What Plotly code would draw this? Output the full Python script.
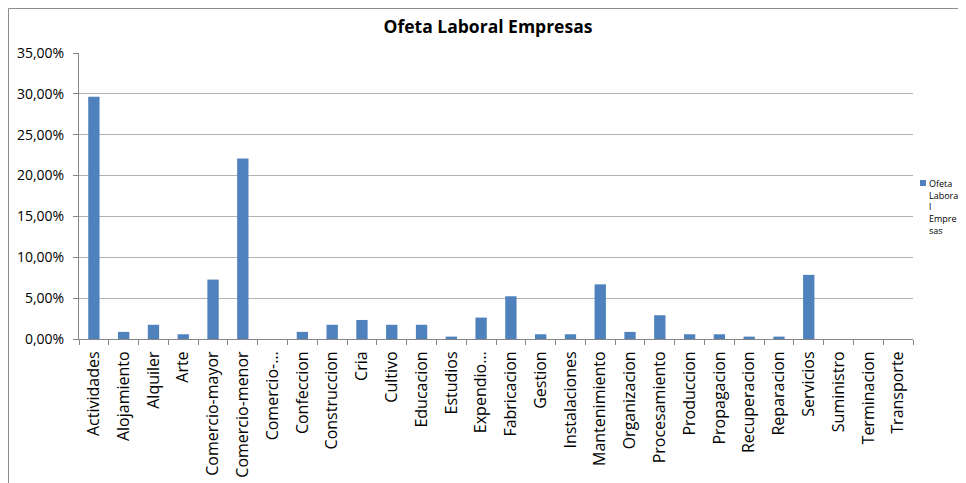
import plotly.graph_objects as go

categories = ["Actividades", "Alojamiento", "Alquiler", "Arte", "Comercio-mayor",
              "Comercio-menor", "Comercio-…", "Confeccion", "Construccion", "Cria",
              "Cultivo", "Educacion", "Estudios", "Expendio…", "Fabricacion",
              "Gestion", "Instalaciones", "Mantenimiento", "Organizacion",
              "Procesamiento", "Produccion", "Propagacion", "Recuperacion",
              "Reparacion", "Servicios", "Suministro", "Terminacion", "Transporte"]
values = [29.65, 0.87, 1.74, 0.58, 7.27, 22.09, 0.0, 0.87, 1.74, 2.33,
          1.74, 1.74, 0.29, 2.62, 5.23, 0.58, 0.58, 6.69, 0.87,
          2.91, 0.58, 0.58, 0.29, 0.29, 7.85, 0.0, 0.0, 0.0]

series_name = "Ofeta Laboral Empresas"
title_text = "Ofeta Laboral Empresas"
y_tickvals = [0, 5, 10, 15, 20, 25, 30, 35]
y_ticktext = ["0,00%", "5,00%", "10,00%", "15,00%", "20,00%", "25,00%", "30,00%", "35,00%"]

BAR = "#4F81BD"
FONT = "Open Sans"

# the page body adds an 8px offset; positions below are page pixels
OFF = 8
W, H = 966 - OFF, 483 - OFF
L, T = 79 - OFF, 53 - OFF
R = W - (913 - OFF)
B = H - (339 - OFF)
pw, ph = W - L - R, H - T - B

def px_x(x):
    return (x - OFF - L) / pw

def px_y(y):
    return (H - B - (y - OFF)) / ph

fig = go.Figure()
fig.add_trace(go.Bar(x=categories, y=values, name=series_name,
                     marker=dict(color=BAR, line=dict(width=0)),
                     showlegend=False))

fig.update_layout(
    width=W, height=H,
    margin=dict(l=L, r=R, t=T, b=B, autoexpand=False),
    paper_bgcolor="white", plot_bgcolor="white",
    bargap=0.62,
    font=dict(family=FONT, color="#000000"),
    title=dict(text="<b>" + title_text + "</b>", x=px_x(488), xref="paper",
               xanchor="center", y=1 - (27 - OFF) / H, yanchor="middle",
               font=dict(size=17.5, family=FONT, color="#000000")),
    xaxis=dict(
        tickangle=-90, tickfont=dict(size=16, family=FONT),
        ticks="outside", tickson="boundaries", ticklen=5, tickcolor="#868686",
        ticklabelstandoff=5,
        showline=True, linecolor="#868686", linewidth=1,
        showgrid=False, automargin=False,
    ),
    yaxis=dict(
        range=[0, 35], tickvals=y_tickvals, ticktext=y_ticktext,
        tickfont=dict(size=14, family=FONT),
        ticks="outside", ticklen=5, tickcolor="#868686",
        ticklabelstandoff=6,
        showline=True, linecolor="#868686", linewidth=1,
        showgrid=True, gridcolor="#B3B3B3", gridwidth=1,
        zeroline=False, automargin=False,
    ),
)

# chart area border (Excel style)
fig.add_shape(type="rect", xref="paper", yref="paper",
              x0=px_x(8.5), x1=px_x(1100), y0=px_y(700), y1=px_y(8.5),
              line=dict(color="#8C8C8C", width=1), fillcolor="rgba(0,0,0,0)",
              layer="below")

# custom legend (wrapped as in the original)
fig.add_shape(type="rect", xref="paper", yref="paper",
              x0=px_x(920), x1=px_x(926), y0=px_y(186), y1=px_y(180),
              line=dict(width=0), fillcolor=BAR)
fig.add_annotation(xref="paper", yref="paper", x=px_x(927), y=px_y(175),
                   xanchor="left", yanchor="top", showarrow=False, align="left",
                   text="Ofeta<br>Labora<br>l<br>Empre<br>sas",
                   font=dict(size=9, family=FONT, color="#000000"))

fig.write_html("out.html")
